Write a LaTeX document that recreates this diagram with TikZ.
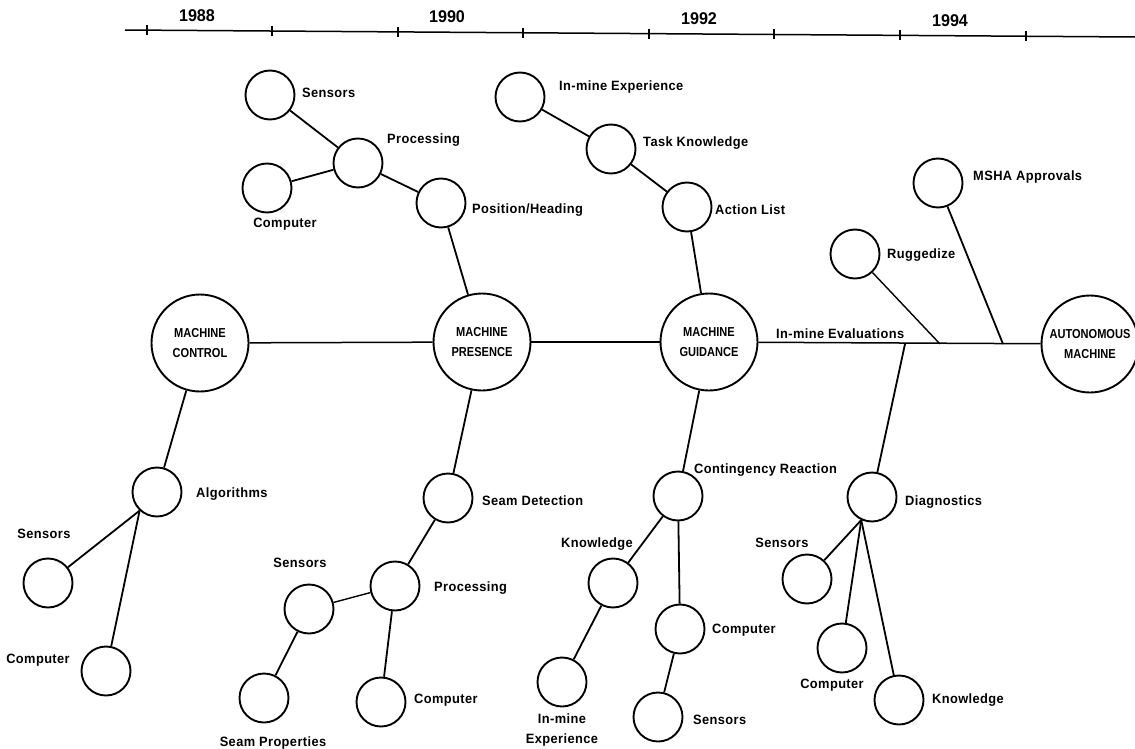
\documentclass[tikz,border=0pt]{standalone}
\usepackage{fontspec}
\newfontfamily\labfont{Liberation Sans}[FakeStretch=0.95,LetterSpace=3]
\newfontfamily\mainfont{Liberation Sans}[FakeStretch=0.85]
\newfontfamily\yearfont{Liberation Sans}[FakeStretch=0.95]
\tikzset{
  small/.style={circle,draw,line width=1.9pt,minimum size=49pt,inner sep=0pt},
  big/.style={circle,draw,line width=1.9pt,minimum size=97pt,inner sep=0pt,align=center,
    font=\mainfont\bfseries\fontsize{13}{20}\selectfont},
  lab/.style={inner sep=0pt,font=\labfont\bfseries\fontsize{13.5}{20}\selectfont},
  yr/.style={inner sep=0pt,font=\yearfont\bfseries\fontsize{17}{19}\selectfont},
  edge/.style={line width=1.8pt},
  hline/.style={line width=1.5pt},
  tick/.style={line width=1.2pt}
}
\begin{document}
\begin{tikzpicture}[x=1pt,y=-1pt]
\useasboundingbox[fill=white] (0,0) rectangle (1135,749);

% timeline
\coordinate (tlA) at (125,30);
\coordinate (tlB) at (1135,37);
\draw[hline] (tlA) -- (tlB);
\foreach \i/\x in {1/147,2/272,3/398,4/523,5/649,6/774,7/900,8/1026}{
  \coordinate (t\i) at (\x,{30+7*(\x-125)/1010});
  \draw[tick] ([yshift=-5pt]t\i) -- ([yshift=5pt]t\i);
}
\node[yr] (y88) at (197,16) {1988};
\node[yr] (y90) at (447,17) {1990};
\node[yr] (y92) at (699,19) {1992};
\node[yr] (y94) at (950,21) {1994};

% main nodes
\node[big] (ctrl) at (200,343) {MACHINE\\CONTROL};
\node[big] (pres) at (482,342) {MACHINE\\PRESENCE};
\node[big] (guid) at (709,342) {MACHINE\\GUIDANCE};
\node[big] (auto) at (1090,344) {AUTONOMOUS\\MACHINE};

\coordinate (j1) at (905,344);
\coordinate (j2) at (940,344);
\coordinate (j3) at (1003,344);

\draw[hline] (ctrl) -- (pres);
\draw[hline] (pres) -- (guid);
\draw[hline] (guid) -- (auto);
\node[lab,anchor=west] (evl) at (776,334) {In-mine Evaluations};

% top-left group
\node[small] (s1) at (270,95) {};
\node[lab,anchor=west] (s1l) at (302,93) {Sensors};
\node[small] (p1) at (358,163) {};
\node[lab,anchor=west] (p1l) at (387,140) {Processing};
\node[small] (c1) at (267,188) {};
\node[lab] (c1l) at (285,224) {Computer};
\node[small] (ph) at (441,203) {};
\node[lab,anchor=west] (phl) at (472,210) {Position/Heading};
\draw[edge] (s1) -- (p1);
\draw[edge] (c1) -- (p1);
\draw[edge] (p1) -- (ph);
\draw[edge] (ph) -- (pres);

% top-middle group
\node[small] (ie) at (520,97) {};
\node[lab,anchor=west] (iel) at (559,87) {In-mine Experience};
\node[small] (tk) at (611,149) {};
\node[lab,anchor=west] (tkl) at (643,143) {Task Knowledge};
\node[small] (al) at (687,207) {};
\node[lab,anchor=west] (all) at (715,210) {Action List};
\draw[edge] (ie) -- (tk);
\draw[edge] (tk) -- (al);
\draw[edge] (al) -- (guid);

% right top
\node[small] (ru) at (855,254) {};
\node[lab,anchor=west] (rul) at (887,255) {Ruggedize};
\node[small] (ms) at (938,183) {};
\node[lab,anchor=west] (msl) at (973,177) {MSHA Approvals};
\draw[edge,line width=1.4pt] (ru) -- (j2);
\draw[edge] (ms) -- (j3);

% lower-left group
\node[small] (alg) at (157,492) {};
\node[lab,anchor=west] (algl) at (196,494) {Algorithms};
\node[small] (s2) at (48,583) {};
\node[lab] (s2l) at (44,534) {Sensors};
\node[small] (c2) at (106,671) {};
\node[lab] (c2l) at (38,660) {Computer};
\draw[edge] (ctrl) -- (alg);
\draw[edge] (alg.227) -- (s2);
\draw[edge] (alg.227) -- (c2);

% lower-middle group
\node[small] (sd) at (448,498) {};
\node[lab,anchor=west] (sdl) at (482,501) {Seam Detection};
\node[small] (p2) at (395,586) {};
\node[lab,anchor=west] (p2l) at (434,588) {Processing};
\node[small] (s3) at (309,609) {};
\node[lab] (s3l) at (300,563) {Sensors};
\node[small] (sp) at (264,698) {};
\node[lab] (spl) at (273,743) {Seam Properties};
\node[small] (c3) at (381,702) {};
\node[lab,anchor=west] (c3l) at (414,700) {Computer};
\draw[edge] (pres) -- (sd);
\draw[edge] (sd) -- (p2);
\draw[edge,line width=1.4pt] (s3) -- (p2);
\draw[edge] (s3) -- (sp);
\draw[edge] (p2) -- (c3);

% lower-guidance group
\node[small] (cr) at (678,496) {};
\node[lab,anchor=west] (crl) at (694,470) {Contingency Reaction};
\node[small] (kn) at (613,583) {};
\node[lab] (knl) at (597,544) {Knowledge};
\node[small] (c4) at (680,629) {};
\node[lab,anchor=west] (c4l) at (712,630) {Computer};
\node[small] (ie2) at (562,682) {};
\node[lab,align=center,font=\labfont\bfseries\fontsize{13.5}{20}\selectfont] (ie2l) at (562,730) {In-mine\\Experience};
\node[small] (s4) at (658,717) {};
\node[lab,anchor=west] (s4l) at (693,720) {Sensors};
\draw[edge] (guid) -- (cr);
\draw[edge] (cr) -- (kn);
\draw[edge] (cr) -- (c4);
\draw[edge] (kn) -- (ie2);
\draw[edge] (c4) -- (s4);

% diagnostics group
\node[small] (dg) at (872,497) {};
\node[lab,anchor=west] (dgl) at (905,502) {Diagnostics};
\node[small] (s5) at (807,579) {};
\node[lab] (s5l) at (782,543) {Sensors};
\node[small] (c5) at (842,648) {};
\node[lab] (c5l) at (832,685) {Computer};
\node[small] (k5) at (899,700) {};
\node[lab,anchor=west] (k5l) at (932,700) {Knowledge};
\draw[edge] (j1) -- (dg);
\draw[edge] (dg.245) -- (s5);
\draw[edge] (dg.245) -- (c5);
\draw[edge] (dg.245) -- (k5);
\end{tikzpicture}
\end{document}
